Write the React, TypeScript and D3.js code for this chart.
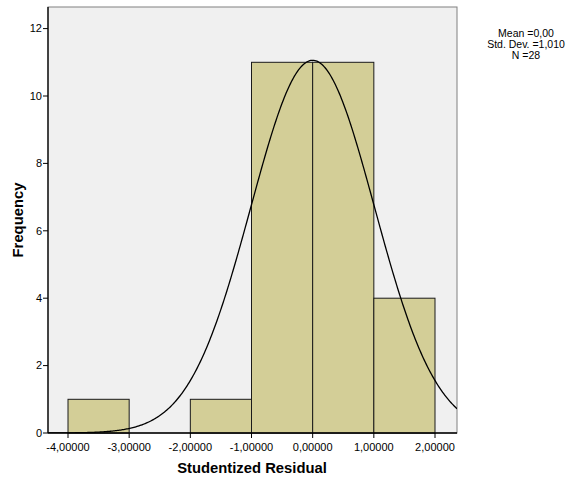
import React from "react";
import * as d3 from "d3";

// Histogram bins (lower edge, upper edge, count)
const binStarts = [-4, -3, -2, -1, 0, 1];
const binEnds = [-3, -2, -1, 0, 1, 2];
const binCounts = [1, 0, 1, 11, 11, 4];

const xTicks = [-4, -3, -2, -1, 0, 1, 2];
const yTicks = [0, 2, 4, 6, 8, 10, 12];

const statMean = 0.0;
const statSd = 1.01;
const statN = 28;
const statLines = ["Mean =0,00", "Std. Dev. =1,010", "N =28"];

const W = 573;
const H = 487;
const plot = { left: 48, right: 457, top: 7, bottom: 433 };

const fmtX = (v: number) => v.toFixed(5).replace(".", ",");

export default function App() {
  const x = d3.scaleLinear().domain([-4, 2]).range([68, 435]);
  const y = d3.scaleLinear().domain([0, 12]).range([plot.bottom, 28.6]);

  const binWidth = 1;
  const normal = (v: number) =>
    (statN * binWidth) / (statSd * Math.sqrt(2 * Math.PI)) *
    Math.exp(-0.5 * ((v - statMean) / statSd) ** 2);

  const xMin = x.invert(plot.left);
  const xMax = x.invert(plot.right);
  const curvePts = d3.range(0, 401).map((i) => {
    const v = xMin + ((xMax - xMin) * i) / 400;
    return [x(v), y(normal(v))] as [number, number];
  });
  const line = d3.line().curve(d3.curveLinear)(curvePts) || "";

  const font = "Arial, 'Liberation Sans', sans-serif";

  return (
    <svg width={W} height={H} style={{ position: "absolute", left: 0, top: 0 }}>
      <rect x={0} y={0} width={W} height={H} fill="#ffffff" />
      <defs>
        <clipPath id="plotClip">
          <rect x={plot.left} y={plot.top} width={plot.right - plot.left} height={plot.bottom - plot.top} />
        </clipPath>
      </defs>
      {/* plot background and frame */}
      <rect
        x={plot.left}
        y={plot.top}
        width={plot.right - plot.left}
        height={plot.bottom - plot.top}
        fill="#f0f0f0"
        stroke="#808080"
        strokeWidth={1}
      />
      {/* bars */}
      {binCounts.map((c, i) =>
        c > 0 ? (
          <rect
            key={i}
            x={x(binStarts[i])}
            y={y(c)}
            width={x(binEnds[i]) - x(binStarts[i])}
            height={y(0) - y(c)}
            fill="#d3ce97"
            stroke="#1a1a1a"
            strokeWidth={1}
          />
        ) : null
      )}
      {/* normal curve */}
      <path d={line} fill="none" stroke="#000" strokeWidth={1.3} clipPath="url(#plotClip)" />
      {/* axes */}
      <line x1={plot.left} x2={plot.left} y1={plot.top} y2={plot.bottom} stroke="#000" strokeWidth={1.3} />
      <line x1={plot.left} x2={plot.right} y1={plot.bottom} y2={plot.bottom} stroke="#000" strokeWidth={1.3} />
      {yTicks.map((t) => (
        <g key={t}>
          <line x1={plot.left - 5} x2={plot.left} y1={y(t)} y2={y(t)} stroke="#000" />
          <text x={plot.left - 6} y={y(t)} dy="0.35em" textAnchor="end" fontFamily={font} fontSize={11} fill="#000">
            {t}
          </text>
        </g>
      ))}
      {xTicks.map((t) => (
        <g key={t}>
          <line x1={x(t)} x2={x(t)} y1={plot.bottom} y2={plot.bottom + 5} stroke="#000" />
          <text x={x(t)} y={plot.bottom + 18} textAnchor="middle" fontFamily={font} fontSize={11} fill="#000">
            {fmtX(t)}
          </text>
        </g>
      ))}
      <text x={252} y={473} textAnchor="middle" fontFamily={font} fontSize={14.8} fontWeight="bold" fill="#000">
        Studentized Residual
      </text>
      <text
        transform={`translate(23,${(plot.top + plot.bottom) / 2}) rotate(-90)`}
        textAnchor="middle"
        fontFamily={font}
        fontSize={14.8}
        fontWeight="bold"
        fill="#000"
      >
        Frequency
      </text>
      {statLines.map((s, i) => (
        <text key={i} x={526} y={37 + i * 11} textAnchor="middle" fontFamily={font} fontSize={10.5} fill="#000">
          {s}
        </text>
      ))}
    </svg>
  );
}
